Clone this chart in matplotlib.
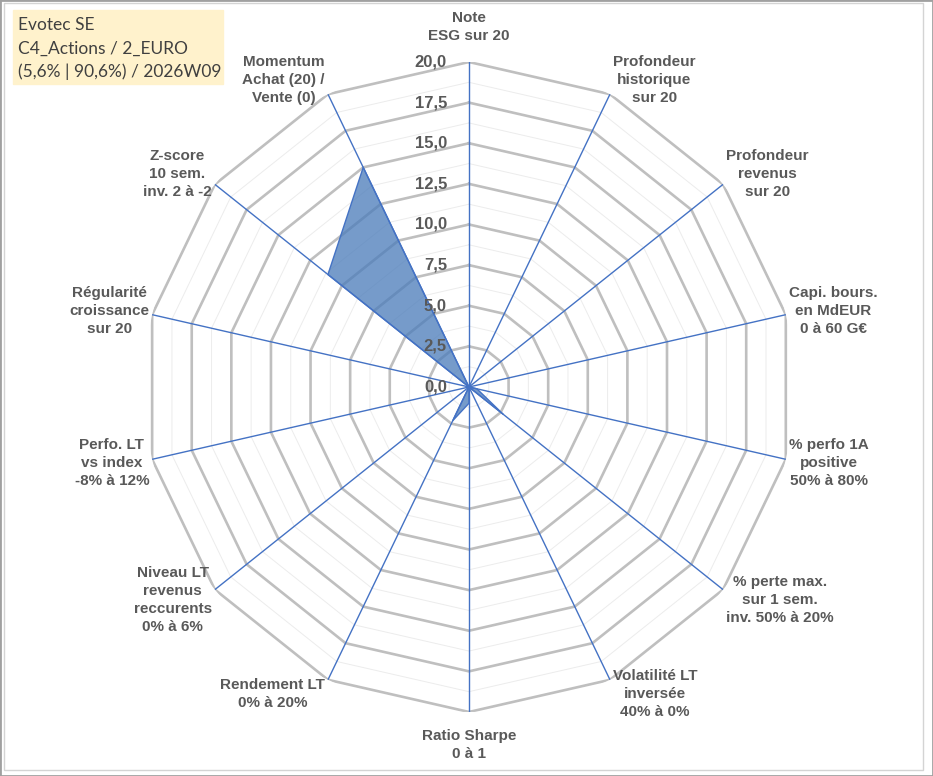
import numpy as np
import matplotlib.pyplot as plt
from matplotlib.patches import Rectangle

# data (axes clockwise from top)
categories = ['Note\nESG sur 20', 'Profondeur\nhistorique\nsur 20', 'Profondeur\nrevenus\nsur 20',
              'Capi. bours.\nen MdEUR\n0 à 60 G€', '% perfo 1A\npositive\n50% à 80%',
              '% perte max.\nsur 1 sem.\ninv. 50% à 20%', 'Volatilité LT\ninversée\n40% à 0%',
              'Ratio Sharpe\n0 à 1', 'Rendement LT\n0% à 20%',
              'Niveau LT\nrevenus\nreccurents\n0% à 6%', 'Perfo. LT\nvs index\n-8% à 12%',
              'Régularité\ncroissance\nsur 20', 'Z-score\n10 sem.\ninv. 2 à -2',
              'Momentum\nAchat (20) /\nVente (0)']
scores = [0, 0, 0, 0, 0.5, 2.7, 0, 1.0, 2.3, 0, 0, 0, 11.1, 15.0]
major_ticks = [0, 2.5, 5, 7.5, 10, 12.5, 15, 17.5, 20]
tick_labels = ['0,0', '2,5', '5,0', '7,5', '10,0', '12,5', '15,0', '17,5', '20,0']
minor_ticks = [1.25, 3.75, 6.25, 8.75, 11.25, 13.75, 16.25, 18.75]
title_lines = ['Evotec SE', 'C4_Actions / 2_EURO', '(5,6% | 90,6%) / 2026W09']

plt.rcParams['font.family'] = ['Liberation Sans', 'DejaVu Sans']
grey_txt = '#595959'

n = len(categories)
theta = np.linspace(0, 2 * np.pi, n, endpoint=False)
theta_c = np.append(theta, theta[0])

fig = plt.figure(figsize=(9.33, 7.76), dpi=100)
ax = fig.add_axes([0.1543, 0.0825, 0.6967, 0.8376], projection='polar')
ax.set_theta_zero_location('N')
ax.set_theta_direction(-1)
ax.set_ylim(0, 20)
ax.grid(False)
ax.spines['polar'].set_visible(False)
ax.set_xticks([])
ax.set_yticks([])
ax.patch.set_alpha(0)

# polygon grid
for r in minor_ticks:
    ax.plot(theta_c, [r] * (n + 1), color='#ececec', lw=0.7, zorder=1)
for r in major_ticks[1:]:
    ax.plot(theta_c, [r] * (n + 1), color='#bfbfbf', lw=1.9, zorder=2)

# series
vals = np.append(scores, scores[0])
ax.fill(theta_c, vals, color='#4b7cba', alpha=0.76, zorder=3, lw=0)
ax.plot(theta_c, vals, color='#4472c4', lw=1.0, zorder=4)

# spokes
for t in theta:
    ax.plot([t, t], [0, 20], color='#4472c4', lw=1.0, zorder=5)

# radial tick labels
for r, lab in zip(major_ticks, tick_labels):
    ax.annotate(lab, xy=(0, r), xytext=(-22, 0), textcoords='offset pixels',
                ha='right', va='center', fontsize=12, fontweight='bold',
                color=grey_txt, zorder=6)

# category labels
for t, lab in zip(theta, categories):
    s, c = np.sin(t), np.cos(t)
    if abs(s) < 0.01:
        ha = 'center'
        va = 'bottom' if c > 0 else 'top'
        off = (0, 19 if c > 0 else -17)
    else:
        ha = 'left' if s > 0 else 'right'
        va = 'center'
        off = (3 if s > 0 else -3, 16 * c)
    ax.annotate(lab, xy=(t, 20), xytext=off, textcoords='offset pixels',
                ha=ha, va=va, multialignment='center', fontsize=11,
                fontweight='bold', color=grey_txt, linespacing=1.36,
                annotation_clip=False)

# title box
fig.patches.append(Rectangle((13 / 933, 1 - 84 / 776), 210 / 933, 74 / 776,
                             transform=fig.transFigure, color='#fff2cc', zorder=0))
for i, line in enumerate(title_lines):
    fig.text(18 / 933, 1 - (25 + 23.5 * i) / 776, line, ha='left', va='center',
             fontsize=12.5, color='#404040', family=['Lato', 'DejaVu Sans'])

# chart borders
fig.patches.append(Rectangle((0, 0), 1, 1, transform=fig.transFigure, fill=False,
                             ec='#a0a0a0', lw=2))
fig.patches.append(Rectangle((4 / 933, 6 / 776), 919 / 933, 767 / 776,
                             transform=fig.transFigure, fill=False, ec='#d4d4d4', lw=1))

fig.savefig('out.png', dpi=100)
